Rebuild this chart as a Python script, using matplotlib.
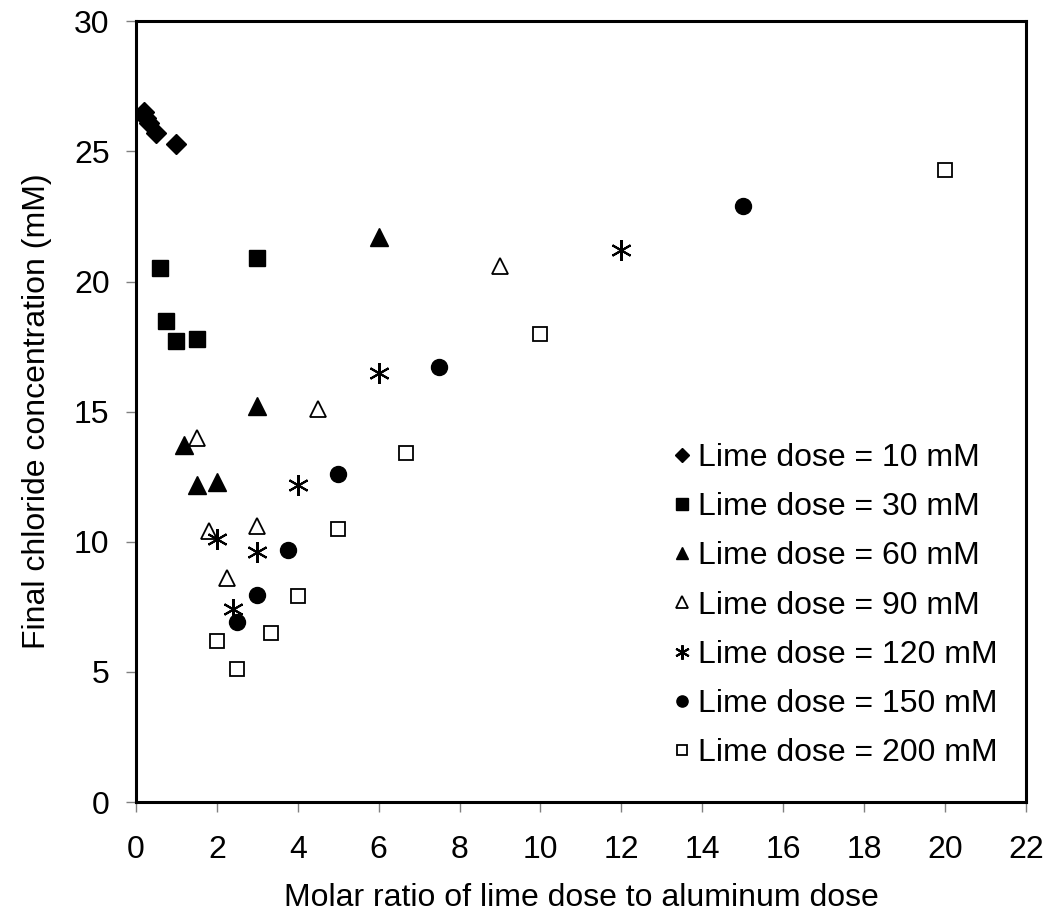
import matplotlib
matplotlib.use("Agg")
import matplotlib.pyplot as plt

plt.rcParams['font.family'] = ['Liberation Sans', 'DejaVu Sans']

# molar ratio (x) and final chloride concentration in mM (y) for each lime dose
x_10 = [0.2, 0.25, 0.33, 0.5, 1.0]
y_10 = [26.5, 26.3, 26.1, 25.7, 25.3]

x_30 = [0.6, 0.75, 1.0, 1.5, 3.0]
y_30 = [20.5, 18.5, 17.7, 17.8, 20.9]

x_60 = [1.2, 1.5, 2.0, 3.0, 6.0]
y_60 = [13.7, 12.2, 12.3, 15.2, 21.7]

x_90 = [1.5, 1.8, 2.25, 3.0, 4.5, 9.0]
y_90 = [14.0, 10.4, 8.6, 10.6, 15.1, 20.6]

x_120 = [2.0, 2.4, 3.0, 4.0, 6.0, 12.0]
y_120 = [10.1, 7.4, 9.6, 12.2, 16.5, 21.2]

x_150 = [2.5, 3.0, 3.75, 5.0, 7.5, 15.0]
y_150 = [6.9, 7.95, 9.7, 12.6, 16.7, 22.9]

x_200 = [2.0, 2.5, 3.33, 4.0, 5.0, 6.67, 10.0, 20.0]
y_200 = [6.2, 5.1, 6.5, 7.9, 10.5, 13.4, 18.0, 24.3]

labels = ['Lime dose = 10 mM', 'Lime dose = 30 mM', 'Lime dose = 60 mM',
          'Lime dose = 90 mM', 'Lime dose = 120 mM', 'Lime dose = 150 mM',
          'Lime dose = 200 mM']

fs = 23

fig = plt.figure(figsize=(10.49, 9.24), dpi=100)
ax = fig.add_axes([0.1296, 0.132, 0.8484, 0.845])

ax.plot(x_10, y_10, ls='none', marker='D', ms=10.5, color='black', label=labels[0])
ax.plot(x_30, y_30, ls='none', marker='s', ms=11.5, color='black', label=labels[1])
ax.plot(x_60, y_60, ls='none', marker='^', ms=13, color='black', label=labels[2])
ax.plot(x_90, y_90, ls='none', marker='^', ms=12, mfc='white', mec='black',
        mew=1.3, label=labels[3])
ax.plot(x_120, y_120, ls='none', marker=(6, 2, 0), ms=15, color='black',
        mew=1.5, label=labels[4])
ax.plot(x_150, y_150, ls='none', marker='o', ms=11.5, color='black', label=labels[5])
ax.plot(x_200, y_200, ls='none', marker='s', ms=10.5, mfc='white', mec='black',
        mew=1.3, label=labels[6])

ax.set_xlim(0, 22)
ax.set_ylim(0, 30)
ax.set_xticks(range(0, 23, 2))
ax.set_yticks(range(0, 31, 5))

for s in ax.spines.values():
    s.set_linewidth(2.2)
    s.set_color('black')

ax.tick_params(axis='both', direction='out', length=7, width=1, color='#808080',
               labelsize=fs)
ax.tick_params(axis='x', pad=17)
ax.tick_params(axis='y', pad=12)

ax.set_xlabel('Molar ratio of lime dose to aluminum dose', fontsize=fs, labelpad=13)
ax.set_ylabel('Final chloride concentration (mM)', fontsize=fs, labelpad=16)

ax.legend(loc='upper left', bbox_to_anchor=(0.592, 0.476), frameon=False,
          fontsize=fs, handlelength=0.4, handletextpad=0.3, labelspacing=0.6,
          borderaxespad=0, markerscale=0.7)

fig.savefig('out.png', dpi=100)
